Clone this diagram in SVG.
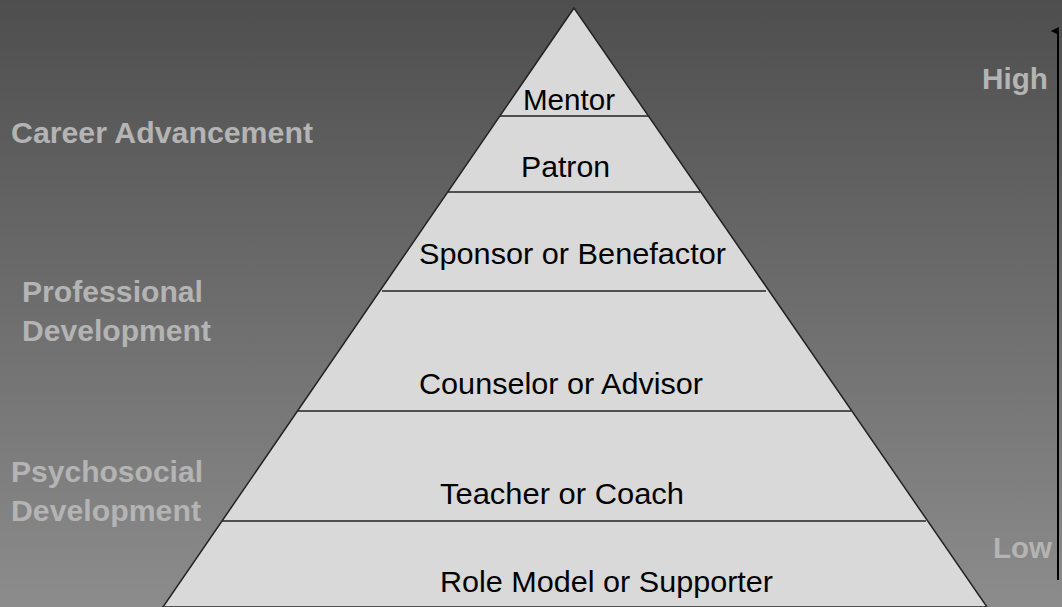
<svg xmlns="http://www.w3.org/2000/svg" width="1062" height="607" viewBox="0 0 1062 607">
<style>
.lvl{font-family:"Liberation Sans",Arial,sans-serif;font-size:30px;fill:#000}
.side{font-family:"Liberation Sans",Arial,sans-serif;font-size:29px;font-weight:bold;fill:#b4b4b4}
.sep{stroke:#222;stroke-width:1.6}
</style>
<defs>
<linearGradient id="bg" x1="0" y1="0" x2="0" y2="1">
<stop offset="0" stop-color="#4e4e4e"/>
<stop offset="1" stop-color="#8c8c8c"/>
</linearGradient>
<marker id="ah" viewBox="0 0 10 10" refX="5" refY="9" markerWidth="8" markerHeight="10" markerUnits="userSpaceOnUse" orient="auto-start-reverse">
<path d="M0,10 L5,0 L10,10 Z" fill="#000"/>
</marker>
</defs>
<rect x="0" y="0" width="1062" height="607" fill="url(#bg)"/>
<g id="pyramid">
<polygon points="574,8 163,607 987,607" fill="#d9d9d9" stroke="#222" stroke-width="1.5"/>
</g>
<g id="levels">
<g id="mentor"><line class="sep" x1="500" y1="116" x2="648" y2="116"/><text class="lvl" x="523" y="110" textLength="92" lengthAdjust="spacingAndGlyphs">Mentor</text></g>
<g id="patron"><line class="sep" x1="448" y1="192" x2="700" y2="192"/><text class="lvl" x="521" y="177" textLength="89" lengthAdjust="spacingAndGlyphs">Patron</text></g>
<g id="sponsor"><line class="sep" x1="382" y1="291" x2="766" y2="291"/><text class="lvl" x="419" y="264" textLength="307" lengthAdjust="spacingAndGlyphs">Sponsor or Benefactor</text></g>
<g id="counselor"><line class="sep" x1="298" y1="411" x2="851" y2="411"/><text class="lvl" x="419" y="394" textLength="284" lengthAdjust="spacingAndGlyphs">Counselor or Advisor</text></g>
<g id="teacher"><line class="sep" x1="222" y1="521" x2="926" y2="521"/><text class="lvl" x="440" y="504" textLength="244" lengthAdjust="spacingAndGlyphs">Teacher or Coach</text></g>
<g id="rolemodel"><text class="lvl" x="440" y="592" textLength="333" lengthAdjust="spacingAndGlyphs">Role Model or Supporter</text></g>
</g>
<g id="labels">
<text class="side" x="11" y="143" textLength="302" lengthAdjust="spacingAndGlyphs">Career Advancement</text>
<text class="side" x="22" y="302" textLength="181" lengthAdjust="spacingAndGlyphs">Professional</text>
<text class="side" x="22" y="341" textLength="189" lengthAdjust="spacingAndGlyphs">Development</text>
<text class="side" x="11" y="482" textLength="192" lengthAdjust="spacingAndGlyphs">Psychosocial</text>
<text class="side" x="11" y="521" textLength="190" lengthAdjust="spacingAndGlyphs">Development</text>
<text class="side" x="982" y="89" textLength="66" lengthAdjust="spacingAndGlyphs">High</text>
<text class="side" x="993" y="558" textLength="59" lengthAdjust="spacingAndGlyphs">Low</text>
</g>
<g id="connectors">
<line x1="1058" y1="580" x2="1058" y2="31" stroke="#000" stroke-width="2" marker-end="url(#ah)"/>
</g>
</svg>
